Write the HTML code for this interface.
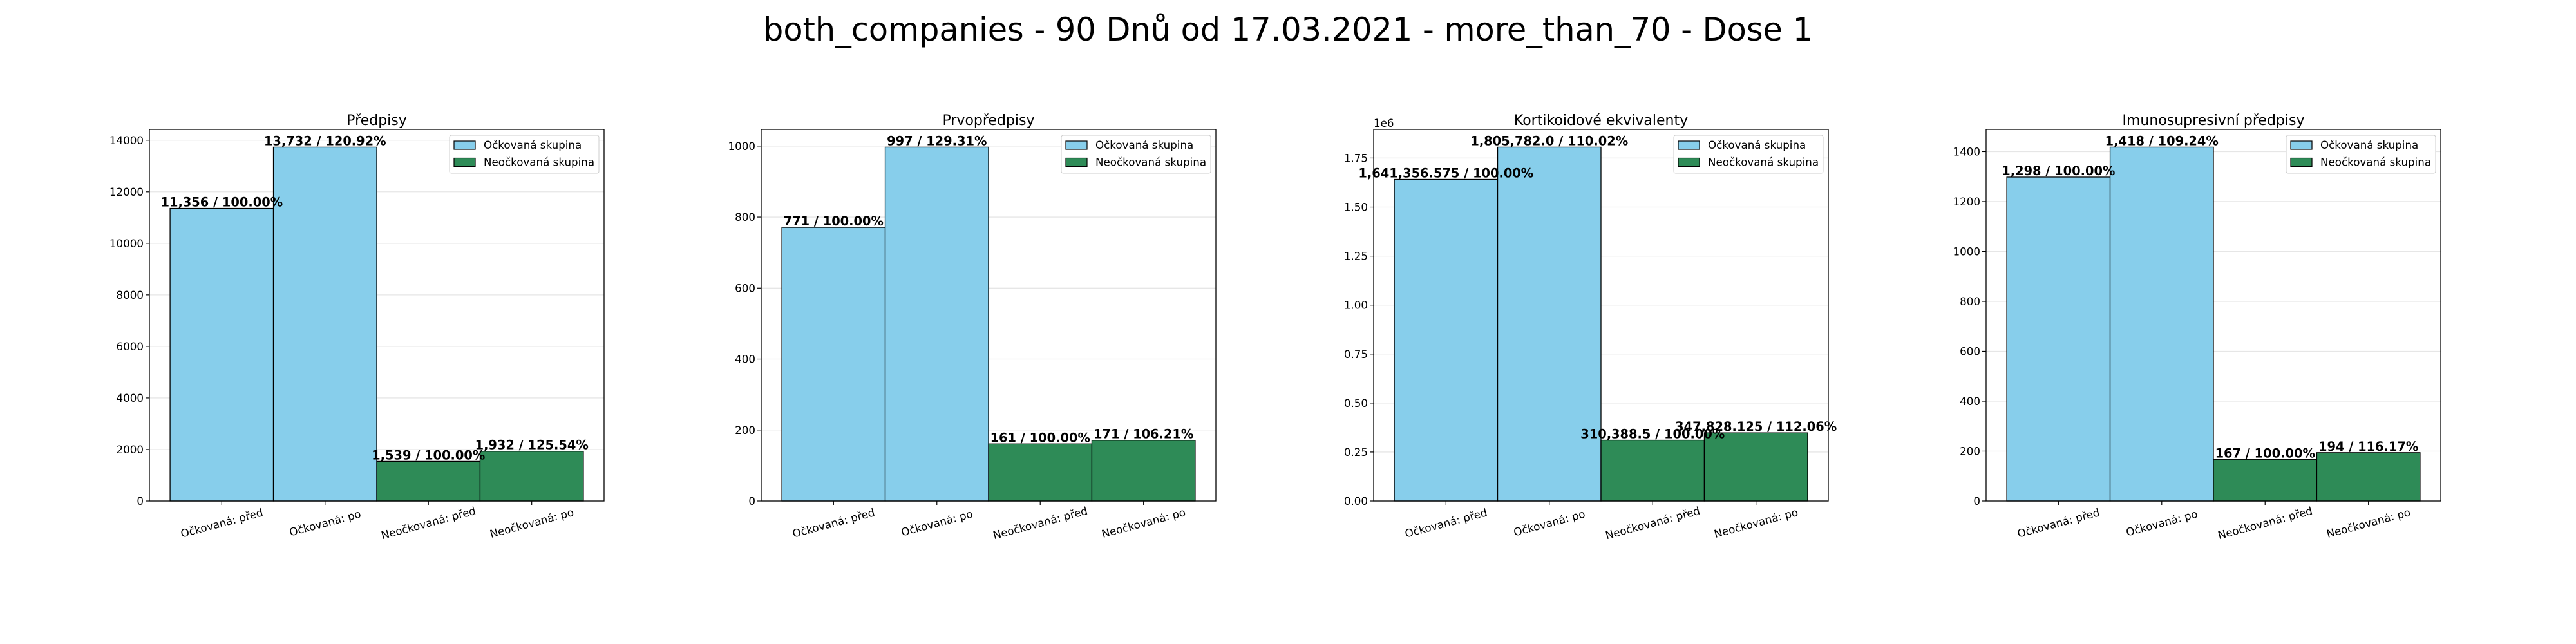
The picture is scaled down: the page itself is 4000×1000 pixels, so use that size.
<!DOCTYPE html>
<html><head><meta charset="utf-8"><style>
html,body{margin:0;padding:0;background:#fff}
svg{display:block}
text{font-family:"DejaVu Sans","Liberation Sans",sans-serif}
</style></head><body>
<svg id="fig" width="4000" height="1000" viewBox="0 0 4000 1000" xmlns="http://www.w3.org/2000/svg">
<rect width="4000" height="1000" fill="#fff"/>
<text x="2000" y="63" font-size="50" text-anchor="middle" textLength="1630" lengthAdjust="spacingAndGlyphs">both_companies - 90 Dnů od 17.03.2021 - more_than_70 - Dose 1</text>
</svg>
<script>
const categories = ["Očkovaná: před", "Očkovaná: po", "Neočkovaná: před", "Neočkovaná: po"];
const chartTitles = ["Předpisy", "Prvopředpisy", "Kortikoidové ekvivalenty", "Imunosupresivní předpisy"];
const valuesPredpisy = [11356, 13732, 1539, 1932];
const valuesPrvopredpisy = [771, 997, 161, 171];
const valuesKortikoidy = [1641356.575, 1805782.0, 310388.5, 347828.125];
const valuesImuno = [1298, 1418, 167, 194];
const labelsPredpisy = ["11,356 / 100.00%", "13,732 / 120.92%", "1,539 / 100.00%", "1,932 / 125.54%"];
const labelsPrvopredpisy = ["771 / 100.00%", "997 / 129.31%", "161 / 100.00%", "171 / 106.21%"];
const labelsKortikoidy = ["1,641,356.575 / 100.00%", "1,805,782.0 / 110.02%", "310,388.5 / 100.00%", "347,828.125 / 112.06%"];
const labelsImuno = ["1,298 / 100.00%", "1,418 / 109.24%", "167 / 100.00%", "194 / 116.17%"];
const ticksPredpisy = [0, 2000, 4000, 6000, 8000, 10000, 12000, 14000];
const ticksPrvopredpisy = [0, 200, 400, 600, 800, 1000];
const ticksKortikoidy = [0, 250000, 500000, 750000, 1000000, 1250000, 1500000, 1750000];
const tickLabelsKortikoidy = ["0.00", "0.25", "0.50", "0.75", "1.00", "1.25", "1.50", "1.75"];
const ticksImuno = [0, 200, 400, 600, 800, 1000, 1200, 1400];
const legendEntries = ["Očkovaná skupina", "Neočkovaná skupina"];

const NS = "http://www.w3.org/2000/svg";
const svg = document.getElementById("fig");
function mk(tag, attrs, parent, txt) {
  const e = document.createElementNS(NS, tag);
  for (const k in attrs) e.setAttribute(k, attrs[k]);
  if (txt !== undefined) e.textContent = txt;
  (parent || svg).appendChild(e);
  return e;
}
const charts = [
  {title: chartTitles[0], vals: valuesPredpisy, labels: labelsPredpisy, ticks: ticksPredpisy, tl: null, left: 232, name: "predpisy"},
  {title: chartTitles[1], vals: valuesPrvopredpisy, labels: labelsPrvopredpisy, ticks: ticksPrvopredpisy, tl: null, left: 1182, name: "prvopredpisy"},
  {title: chartTitles[2], vals: valuesKortikoidy, labels: labelsKortikoidy, ticks: ticksKortikoidy, tl: tickLabelsKortikoidy, left: 2133, name: "kortikoidy", offset: "1e6"},
  {title: chartTitles[3], vals: valuesImuno, labels: labelsImuno, ticks: ticksImuno, tl: null, left: 3084, name: "imuno"}
];
const colors = ["#87CEEB", "#87CEEB", "#2E8B57", "#2E8B57"];
const W = 706, TOP = 201, BOT = 778, H = BOT - TOP;

charts.forEach((c) => {
  const g = mk("g", {});
  
  
  const ymax = Math.max(...c.vals) * 1.05;
  const y = v => BOT - v / ymax * H;
  const x = i => c.left + (i + 0.7) / 4.4 * W;
  const bw = W / 4.4;
  c.ticks.forEach((t, i) => {
    const gl = mk("line", {x1: c.left, x2: c.left + W, y1: y(t), y2: y(t), stroke: "#e6e6e6", "stroke-width": 1.3}, g);
    
    
    const tk = mk("line", {x1: c.left - 6, x2: c.left, y1: y(t), y2: y(t), stroke: "#000", "stroke-width": 1.2}, g);
    
    
    const lb = mk("text", {x: c.left - 9, y: y(t) + 6, "font-size": 16.7, "text-anchor": "end"}, g, c.tl ? c.tl[i] : String(t));
    
    
  });
  c.vals.forEach((v, i) => {
    const r = mk("rect", {x: x(i) - bw / 2, y: y(v), width: bw, height: BOT - y(v), fill: colors[i], stroke: "#000", "stroke-width": 1.3}, g);
    
    
  });
  c.vals.forEach((v, i) => {
    const t = mk("text", {x: x(i), y: y(v) - 3, "font-size": 19.4, "font-weight": "bold", "text-anchor": "middle"}, g, c.labels[i]);
    
    
    const tk = mk("line", {x1: x(i), x2: x(i), y1: BOT, y2: BOT + 6, stroke: "#000", "stroke-width": 1.2}, g);
    
    
    const xl = mk("text", {x: x(i), y: 818, "font-size": 16.7, "text-anchor": "middle", transform: `rotate(-15 ${x(i)} 812)`}, g, categories[i]);
    
    
  });
  const fr = mk("rect", {x: c.left, y: TOP, width: W, height: H, fill: "none", stroke: "#000", "stroke-width": 1.3}, g);
  
  
  const tt = mk("text", {x: c.left + W / 2, y: 194, "font-size": 22, "text-anchor": "middle"}, g, c.title);
  
  
  if (c.offset) {
    const o = mk("text", {x: c.left, y: 197, "font-size": 16.7}, g, c.offset);
    
    
  }
  const lx = c.left + W - 240, ly = 210;
  const lg = mk("g", {}, g);
  
  
  mk("rect", {x: lx, y: ly, width: 232, height: 59, rx: 3, fill: "#fff", stroke: "#ccc", "stroke-width": 1}, lg);
  legendEntries.forEach((name, k) => {
    const sw = mk("rect", {x: lx + 7, y: ly + 9 + k * 26.5, width: 33, height: 13, fill: k ? "#2E8B57" : "#87CEEB", stroke: "#000", "stroke-width": 1.2}, lg);
    
    
    const lt = mk("text", {x: lx + 53, y: ly + 21 + k * 26.5, "font-size": 16.7}, lg, name);
    
    
  });
});
</script>
</body></html>
